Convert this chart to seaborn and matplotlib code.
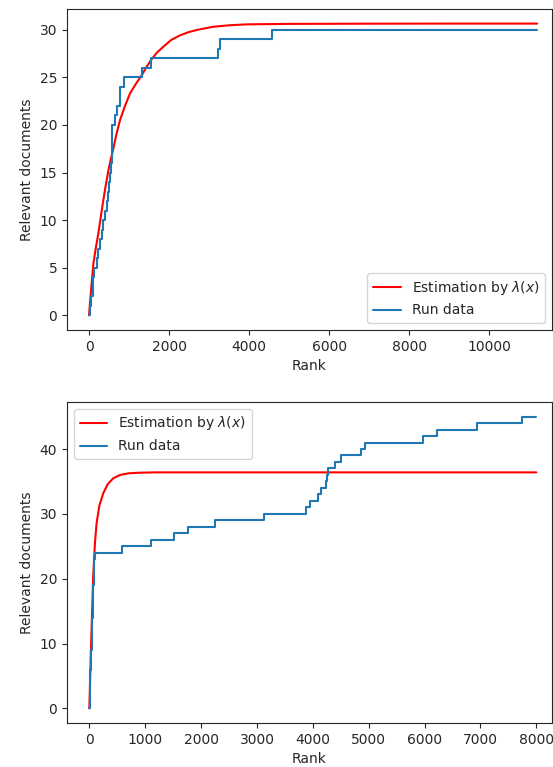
import numpy as np
import pandas as pd
import matplotlib
matplotlib.use("Agg")
import matplotlib.pyplot as plt
import seaborn as sns

# top run: estimation curve
est1_rank = [0, 50, 108, 170, 233, 300, 358, 420, 483, 545, 608, 690, 775, 900, 1025,
             1170, 1317, 1440, 1567, 1700, 1858, 2050, 2275, 2500, 2733, 3108, 3500,
             3942, 5000, 7000, 9000, 11200]
est1_docs = [0, 2.6, 5.4, 7.1, 8.6, 10.5, 12.1, 13.7, 15.2, 16.4, 17.5, 19.1, 20.5,
             22.0, 23.3, 24.3, 25.2, 26.1, 26.9, 27.6, 28.2, 28.9, 29.4, 29.75, 30.0,
             30.3, 30.45, 30.55, 30.6, 30.62, 30.63, 30.63]

# top run: step data
run1_rank = [0, 20, 50, 100, 125, 190, 230, 280, 317, 360, 400, 440, 470, 490, 520,
             545, 580, 650, 690, 775, 883, 1333, 1550, 3230, 3270, 4580, 11200]
run1_docs = [0, 1, 2, 4, 5, 6, 7, 8, 9, 10, 11, 12, 13, 14, 15,
             16, 20, 21, 22, 24, 25, 26, 27, 28, 29, 30, 30]

# bottom run: estimation curve
est2_rank = [0, 30, 70, 100, 130, 180, 250, 330, 430, 550, 700, 900, 1200, 8000]
est2_docs = [0, 9.5, 20.5, 25.5, 28.6, 31.3, 33.2, 34.6, 35.5, 36.0, 36.25, 36.35, 36.4, 36.4]

# bottom run: step data
run2_rank = [0, 10, 20, 30, 40, 50, 60, 70, 80, 90, 100, 590, 1100, 1520, 1770, 2250,
             3125, 3880, 3940, 4100, 4140, 4230, 4250, 4270, 4400, 4500, 4870, 4930,
             5975, 6225, 6930, 7750, 8000]
run2_docs = [0, 3, 6, 9, 12, 14, 17, 19, 21, 23, 24, 25, 26, 27, 28, 29,
             30, 31, 32, 33, 34, 35, 36, 37, 38, 39, 40, 41,
             42, 43, 44, 45, 45]

sns.set_style("ticks")
plt.rcParams['font.family'] = ['DejaVu Sans']
plt.rcParams['font.size'] = 10

DPI = 100
fig = plt.figure(figsize=(553 / DPI, 767 / DPI), dpi=DPI)
ax1 = fig.add_axes([67 / 553, 1 - 330 / 767, 485 / 553, 321 / 767])
ax2 = fig.add_axes([67 / 553, 1 - 723 / 767, 485 / 553, 321 / 767])

panels = [
    (ax1, est1_rank, est1_docs, run1_rank, run1_docs, "lower right", (-550, 11570)),
    (ax2, est2_rank, est2_docs, run2_rank, run2_docs, "upper left", (-400, 8280)),
]

for ax, er, ed, rr, rd, loc, xlim in panels:
    est = pd.DataFrame({"Rank": er, "Relevant documents": ed})
    run = pd.DataFrame({"Rank": rr, "Relevant documents": rd})
    sns.lineplot(data=est, x="Rank", y="Relevant documents", ax=ax, color="red",
                 linewidth=1.5, label=r"Estimation by $\lambda(x)$")
    sns.lineplot(data=run, x="Rank", y="Relevant documents", ax=ax, color="#1f77b4",
                 linewidth=1.5, drawstyle="steps-post", label="Run data")
    ax.set_xlim(*xlim)
    ax.set_xlabel("Rank", fontsize=10)
    ax.set_ylabel("Relevant documents", fontsize=10)
    ax.tick_params(labelsize=10)
    for s in ax.spines.values():
        s.set_visible(True)
        s.set_linewidth(0.8)
    ax.legend(loc=loc, fontsize=10)

fig.savefig("out.png", dpi=DPI)
